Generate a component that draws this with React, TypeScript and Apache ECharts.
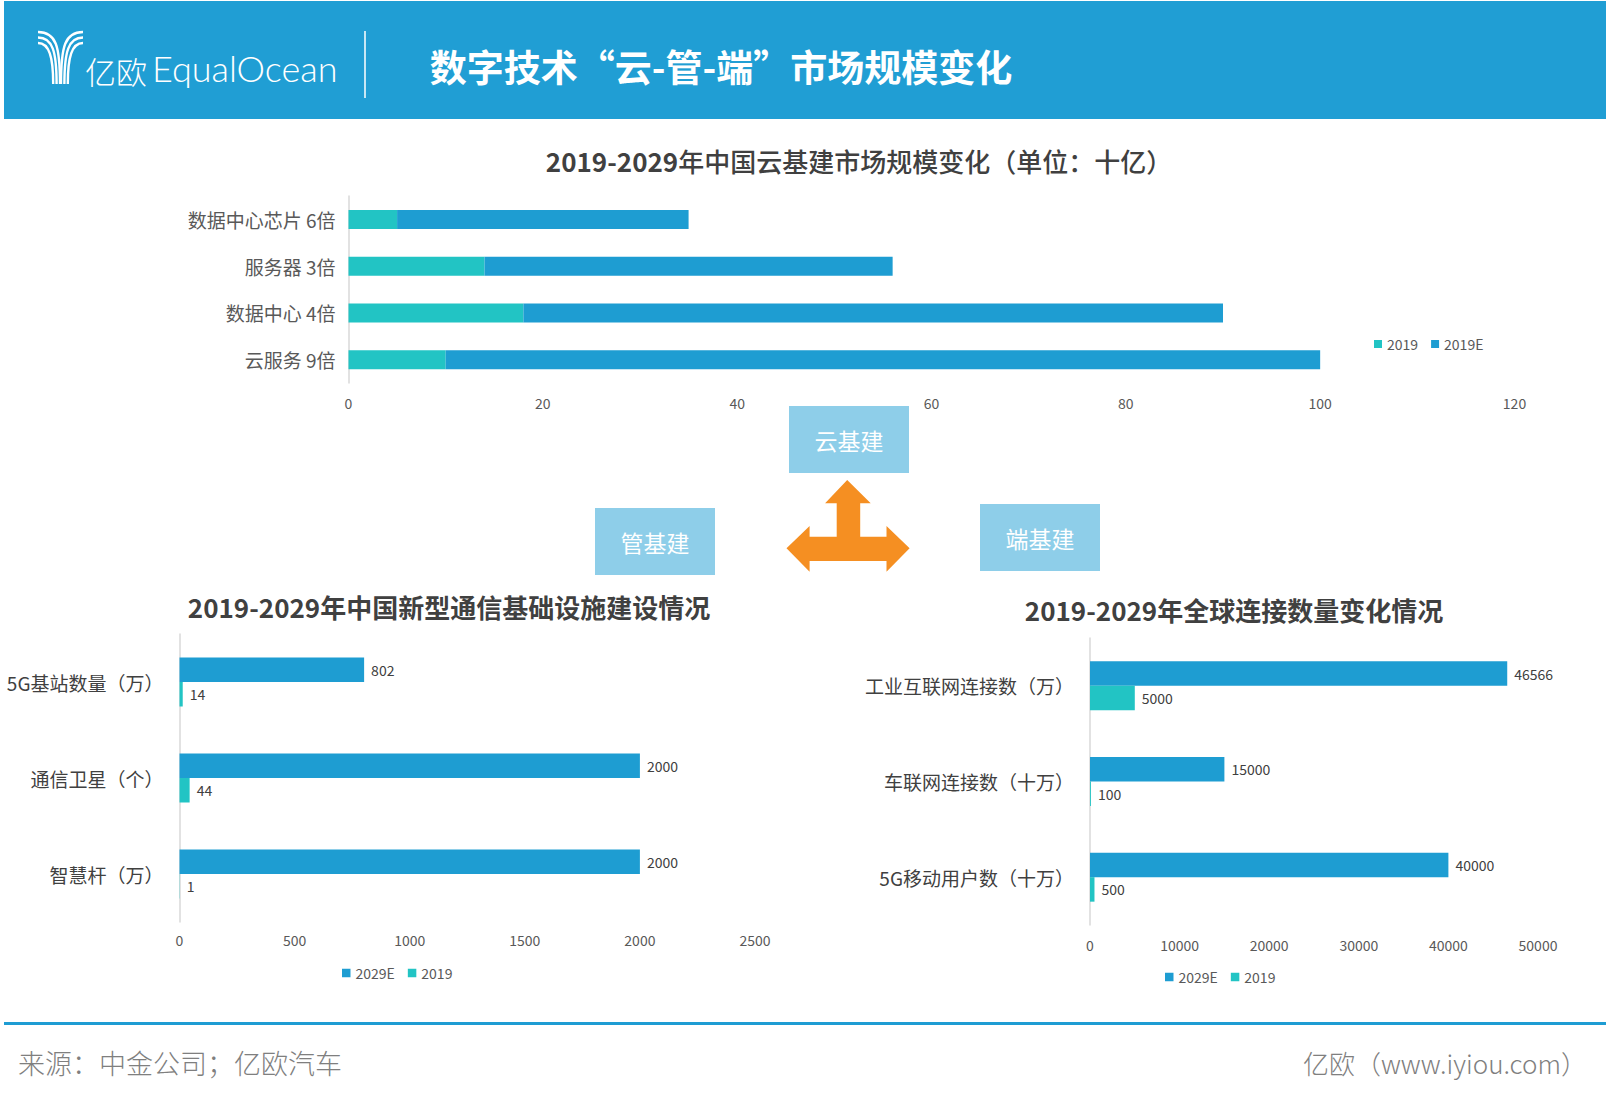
import React, { useEffect, useRef } from 'react';
import * as echarts from 'echarts';

// ---------- data ----------
const headerTitle = '数字技术“云-管-端”市场规模变化';
const cloudTitleNum = '2019-2029';
const cloudTitleText = '年中国云基建市场规模变化（单位：十亿）';
const pipeTitle = '2019-2029年中国新型通信基础设施建设情况';
const endTitle = '2019-2029年全球连接数量变化情况';

const cloudCategories = ['数据中心芯片 6倍', '服务器 3倍', '数据中心 4倍', '云服务 9倍'];
const cloud2019 = [5, 14, 18, 10];
const cloudGrowth = [30, 42, 72, 90];
const cloudSeriesNames = ['2019', '2019E'];

const pipeCategories = ['5G基站数量（万）', '通信卫星（个）', '智慧杆（万）'];
const pipe2029 = [802, 2000, 2000];
const pipe2019 = [14, 44, 1];

const endCategories = ['工业互联网连接数（万）', '车联网连接数（十万）', '5G移动用户数（十万）'];
const end2029 = [46566, 15000, 40000];
const end2019 = [5000, 100, 500];
const bottomSeriesNames = ['2029E', '2019'];

const boxLabels = ['云基建', '管基建', '端基建'];
const sourceText = '来源：中金公司；亿欧汽车';
const siteText = '亿欧（www.iyiou.com）';

// ---------- styles ----------
const FONT = '"Noto Sans CJK SC", "Microsoft YaHei", sans-serif';
const TEAL = '#22C4C4';
const BLUE = '#1E9DD2';
const HEADER = '#209ED4';
const BOX = '#8ECEE9';
const ORANGE = '#F58F22';

function txt(text: string, x: number, y: number, font: string, fill: string, align = 'left', extra: any = {}) {
  return {
    type: 'text',
    silent: true,
    style: {
      text, x, y, font, fill,
      align, verticalAlign: 'middle',
      textAlign: align, textVerticalAlign: 'middle',
      ...extra,
    },
  };
}

function buildOption() {
  const logoCurves: any[] = [];
  for (let i = 0; i < 3; i++) {
    const sy = 32 + i * 5.5;
    const lx = 60 - i * 3.4;
    logoCurves.push({
      type: 'bezierCurve',
      shape: { x1: 38, y1: sy, x2: lx, y2: 84, cpx1: lx - 4, cpy1: sy, cpx2: lx, cpy2: sy + 14 },
      style: { stroke: '#fff', lineWidth: 2.4, fill: null },
    });
    const rx = 61 + i * 3.4;
    logoCurves.push({
      type: 'bezierCurve',
      shape: { x1: 83, y1: sy, x2: rx, y2: 84, cpx1: rx + 4, cpy1: sy, cpx2: rx, cpy2: sy + 14 },
      style: { stroke: '#fff', lineWidth: 2.4, fill: null },
    });
  }

  const boxes = [
    { x: 789, y: 406 },
    { x: 595, y: 508 },
    { x: 980, y: 504 },
  ];
  const boxEls: any[] = [];
  boxes.forEach((b, i) => {
    boxEls.push({ type: 'rect', silent: true, shape: { x: b.x, y: b.y, width: 120, height: 67 }, style: { fill: BOX } });
    boxEls.push(txt(boxLabels[i], b.x + 60, b.y + 34, `23px ${FONT}`, '#fff', 'center'));
  });

  const arrowPts = [
    [847.2, 480], [870.7, 503.3], [860.2, 503.3], [860.2, 536.7], [886.5, 536.7], [886.5, 526],
    [909.6, 548.3], [886.5, 571.7], [886.5, 561], [809.6, 561], [809.6, 571.7], [786.5, 548.3],
    [809.6, 526], [809.6, 536.7], [836.7, 536.7], [836.7, 503.3], [825.1, 503.3],
  ];

  const graphic: any[] = [
    { type: 'rect', silent: true, shape: { x: 4, y: 1, width: 1602, height: 118 }, style: { fill: HEADER } },
    ...logoCurves,
    txt('亿欧', 85, 70, `300 31px ${FONT}`, '#fff'),
    txt('EqualOcean', 152, 68, `300 36px Lato, "Open Sans", sans-serif`, '#fff'),
    { type: 'line', silent: true, shape: { x1: 365, y1: 31, x2: 365, y2: 98 }, style: { stroke: '#fff', lineWidth: 1.5 } },
    txt(headerTitle, 721, 66, `bold 37px ${FONT}`, '#fff', 'center'),
    {
      type: 'text', silent: true,
      style: {
        text: `{a|${cloudTitleNum}}{b|${cloudTitleText}}`,
        x: 859, y: 160, align: 'center', verticalAlign: 'middle', textAlign: 'center', textVerticalAlign: 'middle',
        rich: {
          a: { fontFamily: FONT, fontWeight: 'bold', fontSize: 26, fill: '#404040', color: '#404040' },
          b: { fontFamily: FONT, fontWeight: 500, fontSize: 26, fill: '#404040', color: '#404040' },
        },
      },
    },
    txt(pipeTitle, 449, 606, `bold 26px ${FONT}`, '#404040', 'center'),
    txt(endTitle, 1234, 609, `bold 26px ${FONT}`, '#404040', 'center'),
    ...boxEls,
    { type: 'polygon', silent: true, shape: { points: arrowPts }, style: { fill: ORANGE } },
    { type: 'rect', silent: true, shape: { x: 4, y: 1022, width: 1602, height: 3 }, style: { fill: '#1E9CD3' } },
    txt(sourceText, 18, 1062, `300 27px ${FONT}`, '#7F7F7F'),
    txt(siteText, 1587, 1062, `300 26px ${FONT}`, '#7F7F7F', 'right'),
  ];

  const valueAxis = (grid: number, max: number, interval: number, margin: number) => ({
    type: 'value', gridIndex: grid, min: 0, max, interval,
    axisLine: { show: false }, axisTick: { show: false }, splitLine: { show: false },
    axisLabel: { color: '#595959', fontSize: 14, fontFamily: FONT, margin, formatter: (v: number) => String(v) },
  });
  const catAxis = (grid: number, data: string[], fontSize: number, color: string, margin: number) => ({
    type: 'category', gridIndex: grid, data, inverse: true,
    axisLine: { show: true, lineStyle: { color: '#D9D9D9', width: 1.5 } },
    axisTick: { show: false },
    axisLabel: { color, fontSize, fontFamily: FONT, margin, padding: [0, 0, 4, 0] },
  });
  const valLabel = { show: true, position: 'right', distance: 7, color: '#404040', fontSize: 14, fontFamily: FONT };
  const legendText = { color: '#595959', fontSize: 14, fontFamily: FONT };

  return {
    animation: false,
    backgroundColor: '#ffffff',
    grid: [
      { left: 348.5, top: 196, width: 1166, height: 187 },
      { left: 179.5, top: 634, width: 575.5, height: 288 },
      { left: 1090, top: 638, width: 448, height: 287 },
    ],
    xAxis: [
      valueAxis(0, 120, 20, 13),
      valueAxis(1, 2500, 500, 11),
      valueAxis(2, 50000, 10000, 13),
    ],
    yAxis: [
      catAxis(0, cloudCategories, 19, '#595959', 13),
      catAxis(1, pipeCategories, 19, '#404040', 16),
      catAxis(2, endCategories, 19, '#404040', 16),
    ],
    legend: [
      {
        data: cloudSeriesNames, left: 1369, top: 332, icon: 'rect', itemWidth: 8, itemHeight: 8, itemGap: 13,
        textStyle: legendText, selectedMode: false,
      },
      {
        data: bottomSeriesNames, left: 337, top: 961, icon: 'rect', itemWidth: 8.5, itemHeight: 8.5, itemGap: 13,
        textStyle: legendText, selectedMode: false,
      },
      {
        data: bottomSeriesNames, left: 1160, top: 965, icon: 'rect', itemWidth: 8.5, itemHeight: 8.5, itemGap: 13,
        textStyle: legendText, selectedMode: false,
      },
    ],
    graphic,
    series: [
      { name: cloudSeriesNames[0], type: 'bar', xAxisIndex: 0, yAxisIndex: 0, stack: 'cloud', data: cloud2019, barWidth: 19, itemStyle: { color: TEAL } },
      { name: cloudSeriesNames[1], type: 'bar', xAxisIndex: 0, yAxisIndex: 0, stack: 'cloud', data: cloudGrowth, barWidth: 19, itemStyle: { color: BLUE } },
      { name: bottomSeriesNames[0], type: 'bar', xAxisIndex: 1, yAxisIndex: 1, data: pipe2029, barWidth: 24.5, barGap: '0%', itemStyle: { color: BLUE }, label: valLabel },
      { name: bottomSeriesNames[1], type: 'bar', xAxisIndex: 1, yAxisIndex: 1, data: pipe2019, barWidth: 24.5, barGap: '0%', itemStyle: { color: TEAL }, label: valLabel },
      { name: bottomSeriesNames[0], type: 'bar', xAxisIndex: 2, yAxisIndex: 2, data: end2029, barWidth: 24.5, barGap: '0%', itemStyle: { color: BLUE }, label: valLabel },
      { name: bottomSeriesNames[1], type: 'bar', xAxisIndex: 2, yAxisIndex: 2, data: end2019, barWidth: 24.5, barGap: '0%', itemStyle: { color: TEAL }, label: valLabel },
    ],
  };
}

export default function App() {
  const ref = useRef<HTMLDivElement>(null);
  useEffect(() => {
    if (!ref.current) return;
    const chart = echarts.init(ref.current, null, { renderer: 'svg' });
    chart.setOption(buildOption() as any);
    return () => chart.dispose();
  }, []);
  return (
    <div
      ref={ref}
      style={{ position: 'absolute', left: 0, top: 0, width: 1608, height: 1101, background: '#fff' }}
    />
  );
}
